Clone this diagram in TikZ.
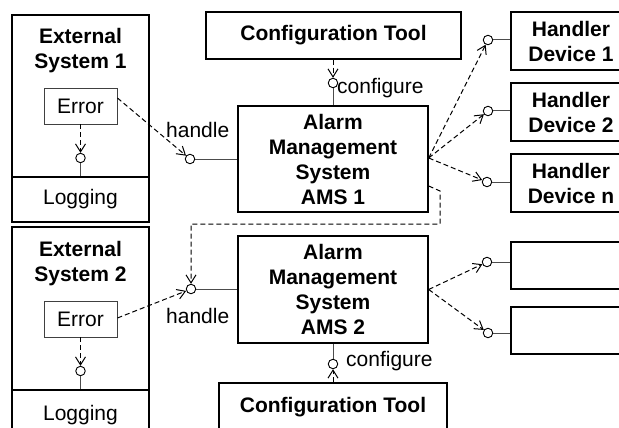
\documentclass[tikz,border=0pt]{standalone}
\usepackage{fontspec}
\setmainfont{Liberation Sans}
\usetikzlibrary{arrows.meta}
\begin{document}
\begin{tikzpicture}[x=1pt,y=-1pt,
  txt/.style={font=\fontsize{21}{25}\selectfont},
  bold/.style={font=\bfseries\fontsize{21}{25}\selectfont},
  outer/.style={draw, line width=1.4pt, inner sep=0pt, align=center},
  comp/.style={outer, bold},
  part/.style={draw, line width=1.2pt, inner sep=0pt, txt},
  errbox/.style={draw=black!75, line width=0.9pt, inner sep=0pt, txt,
    minimum width=73pt, minimum height=36pt},
  title/.style={inner sep=0pt, align=center, bold},
  lolli/.style={circle, draw, line width=0.9pt, inner sep=0pt, minimum size=9.5pt},
  stem/.style={draw=black!70, line width=1pt},
  dep/.style={dashed, dash pattern=on 5pt off 3pt, line width=1pt,
    -{Straight Barb[length=8pt,width=10pt]}},
  lbl/.style={inner sep=0pt, txt}
]
\useasboundingbox (0,0) rectangle (619,428);
\begin{scope}
\clip (0,0) rectangle (619,428);

% ---------- External System 1 ----------
\node[outer, minimum width=137pt, minimum height=207pt] (es1) at (80.5,118.5) {};
\node[title] (es1t) at (80.5,51) {External\\System 1};
\node[part, minimum width=137pt, minimum height=45pt] (log1) at (80.5,199.5) {Logging};
\node[errbox] (err1) at (80.5,106) {Error};
\node[lolli] (c1) at (80.5,158) {};
\draw[stem] (c1.south) -- (log1.north);
\draw[dep] (err1.south) -- (c1.north);

% ---------- External System 2 ----------
\node[outer, minimum width=137pt, minimum height=213pt] (es2) at (80.5,333.5) {};
\node[title] (es2t) at (80.5,264) {External\\System 2};
\node[part, minimum width=137pt, minimum height=50pt] (log2) at (80.5,415) {Logging};
\node[errbox] (err2) at (80.5,319) {Error};
\node[lolli] (c2) at (80.5,371) {};
\draw[stem] (c2.south) -- (log2.north);
\draw[dep] (err2.south) -- (c2.north);

% ---------- Configuration tools ----------
\node[comp, minimum width=255pt, minimum height=47pt] (cfg1) at (333.5,35.5) {Configuration Tool};
\node[comp, minimum width=228pt, minimum height=48pt] (cfg2) at (333,407) {Configuration Tool};

% ---------- Alarm management systems ----------
\node[comp, minimum width=190pt, minimum height=106pt] (ams1) at (333,159) {Alarm\\Management\\System\\AMS 1};
\node[comp, minimum width=190pt, minimum height=107pt] (ams2) at (333,289.5) {Alarm\\Management\\System\\AMS 2};

% configure interfaces
\node[lolli] (cc1) at (333,83) {};
\draw[stem] (cc1.south) -- (cc1.south |- ams1.north);
\draw[dep] (cfg1.south -| cc1) -- (cc1.north);
\node[lbl, anchor=base west] (lc1) at (337,93) {configure};

\node[lolli] (cc2) at (333,364) {};
\draw[stem] (cc2.north) -- (cc2.north |- ams2.south);
\draw[dep] (cfg2.north -| cc2) -- (cc2.south);
\node[lbl, anchor=base west] (lc2) at (346,366) {configure};

% handle interfaces
\node[lolli] (h1) at (190,159) {};
\draw[stem] (h1.east) -- (h1.east -| ams1.west);
\node[lbl, anchor=base west] (lh1) at (166,137) {handle};
\draw[dep] ([yshift=8pt]err1.east) -- (h1);

\node[lolli] (h2) at (191,289) {};
\draw[stem] (h2.east) -- (h2.east -| ams2.west);
\node[lbl, anchor=base west] (lh2) at (166,323) {handle};
\draw[dep] ([yshift=1pt]err2.east) -- (h2);

% escalation from AMS 1 to AMS 2
\coordinate (esc) at ([yshift=-27pt]ams1.east);
\coordinate (escA) at (440,191);
\coordinate (escB) at (440,224);
\draw[dep] (esc) -- (escA) -- (escB) -- (escB -| h2) -- (h2.north);

% ---------- Handler devices ----------
\node[comp, minimum width=120pt, minimum height=58pt] (hd1) at (571,41) {Handler\\Device 1};
\node[comp, minimum width=120pt, minimum height=58pt] (hd2) at (571,112) {Handler\\Device 2};
\node[comp, minimum width=120pt, minimum height=58pt] (hdn) at (571,183) {Handler\\Device n};
\node[part, minimum width=120pt, minimum height=47pt] (hda) at (571,265.5) {};
\node[part, minimum width=120pt, minimum height=47pt] (hdb) at (571,330.5) {};

\node[lolli] (d1) at (488,40) {};
\node[lolli] (d2) at (488,111) {};
\node[lolli] (dn) at (487,182) {};
\node[lolli] (da) at (487,262) {};
\node[lolli] (db) at (488,333) {};
\foreach \c/\b in {d1/hd1, d2/hd2, dn/hdn, da/hda, db/hdb}
  \draw[stem] (\c.east) -- (\c.east -| \b.west);

\foreach \c in {d1, d2, dn}
  \draw[dep] ([yshift=1pt]ams1.east) -- (\c);
\foreach \c in {da, db}
  \draw[dep] (ams2.east) -- (\c);
\end{scope}
\end{tikzpicture}
\end{document}
